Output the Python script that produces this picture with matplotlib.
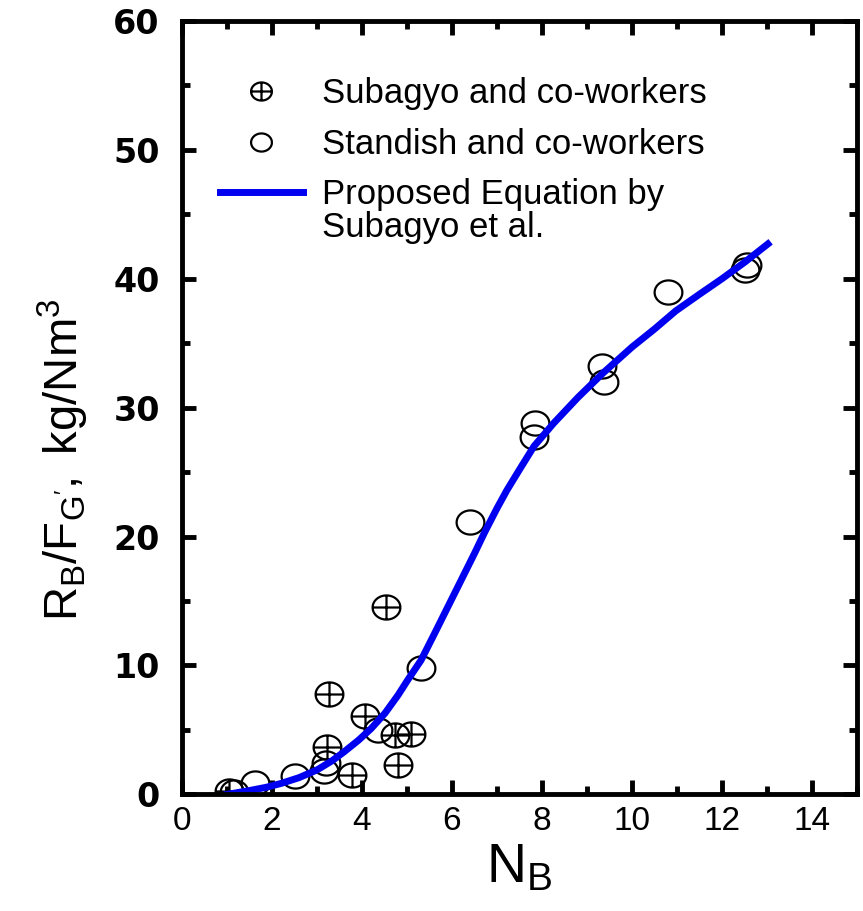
import numpy as np
import matplotlib
matplotlib.use("Agg")
import matplotlib.pyplot as plt
from matplotlib.path import Path
from matplotlib.ticker import MultipleLocator

plt.rcParams["font.family"] = ["Liberation Sans", "DejaVu Sans"]
plt.rcParams["mathtext.fontset"] = "custom"
plt.rcParams["mathtext.rm"] = "Liberation Sans"
plt.rcParams["mathtext.it"] = "Liberation Sans"

# Subagyo and co-workers (crossed circles)
sub_nb = [1.05, 3.22, 3.26, 3.77, 4.07, 4.54, 4.73, 4.80, 5.09]
sub_r = [0.3, 3.7, 7.8, 1.5, 6.1, 14.5, 4.6, 2.25, 4.7]

# Standish and co-workers (open circles)
std_nb = [1.15, 1.62, 2.52, 3.15, 3.20, 4.36, 5.31, 6.41, 7.82, 7.85,
          9.34, 9.38, 10.81, 12.52, 12.56]
std_r = [0.2, 0.9, 1.4, 1.8, 2.4, 5.0, 9.8, 21.1, 27.7, 28.8,
         33.2, 32.0, 39.0, 40.7, 41.1]

# proposed equation curve
eq_nb = [1.0, 1.5, 1.87, 2.2, 2.6, 3.0, 3.33, 3.6, 3.92, 4.2, 4.51, 4.8,
         5.02, 5.31, 5.6, 5.9, 6.2, 6.5, 6.72, 7.0, 7.22, 7.5, 7.82, 8.26,
         8.8, 9.36, 10.0, 10.5, 10.97, 11.5, 12.0, 12.51, 13.02]
eq_r = [0.0, 0.3, 0.55, 0.85, 1.3, 1.9, 2.6, 3.3, 4.2, 5.1, 6.3, 7.7,
        8.9, 10.4, 12.4, 14.5, 16.6, 18.7, 20.3, 22.2, 23.6, 25.2, 27.0, 28.8,
        30.8, 32.7, 34.7, 36.1, 37.5, 38.8, 40.0, 41.3, 42.7]

# slightly wide ellipse markers, with and without a cross
t = np.linspace(0, 2 * np.pi, 61)
ell = np.column_stack([1.15 * np.cos(t), np.sin(t)])
ell_codes = [Path.MOVETO] + [Path.LINETO] * (len(t) - 1)
open_mk = Path(ell, ell_codes)
cross_verts = np.vstack([ell, [[-1.15, 0], [1.15, 0], [0, -1], [0, 1]]])
cross_codes = ell_codes + [Path.MOVETO, Path.LINETO, Path.MOVETO, Path.LINETO]
cross_mk = Path(cross_verts, cross_codes)

fig = plt.figure(figsize=(8.63, 9.11), dpi=100)
ax = fig.add_axes([0.211, 0.128, 0.782, 0.849])

ax.plot(sub_nb, sub_r, linestyle="none", marker=cross_mk, markersize=20,
        markerfacecolor="none", markeredgecolor="black", markeredgewidth=1.6,
        label="Subagyo and co-workers")
ax.plot(std_nb, std_r, linestyle="none", marker=open_mk, markersize=20,
        markerfacecolor="none", markeredgecolor="black", markeredgewidth=1.6,
        label="Standish and co-workers")
ax.plot(eq_nb, eq_r, color="#0000f0", linewidth=5,
        label="Proposed Equation by")

ax.set_xlim(0, 15)
ax.set_ylim(0, 60)
ax.xaxis.set_major_locator(MultipleLocator(2))
ax.xaxis.set_minor_locator(MultipleLocator(1))
ax.yaxis.set_major_locator(MultipleLocator(10))
ax.yaxis.set_minor_locator(MultipleLocator(5))
ax.tick_params(which="both", direction="in", top=True, right=True, width=3.5)
ax.tick_params(which="major", length=10)
ax.tick_params(which="minor", length=6)
ax.tick_params(axis="x", labelsize=24, pad=8)
ax.tick_params(axis="y", labelsize=24, pad=16)
for lab in ax.get_yticklabels():
    lab.set_fontfamily("DejaVu Sans")
    lab.set_fontweight("bold")
for s in ax.spines.values():
    s.set_linewidth(3.5)

ax.set_xlabel(r"$\mathregular{N_B}$", fontsize=40, labelpad=4)
ax.set_ylabel(r"$\mathregular{R_B/F_{G'},\ kg/Nm^3}$", fontsize=34)
ax.yaxis.set_label_coords(-0.135, 0.433)

leg = ax.legend(loc="upper left", bbox_to_anchor=(0.035, 0.945),
                borderaxespad=0, frameon=False, fontsize=25,
                markerscale=0.75, handlelength=2.4, handletextpad=0.55,
                labelspacing=0.5)

# second line of the equation entry, under its label
fig.canvas.draw()
bb = leg.get_texts()[2].get_window_extent().transformed(fig.transFigure.inverted())
fig.text(bb.x0, bb.y0, "Subagyo et al.", fontsize=25,
         ha="left", va="top")

fig.savefig("out.png", dpi=100)
